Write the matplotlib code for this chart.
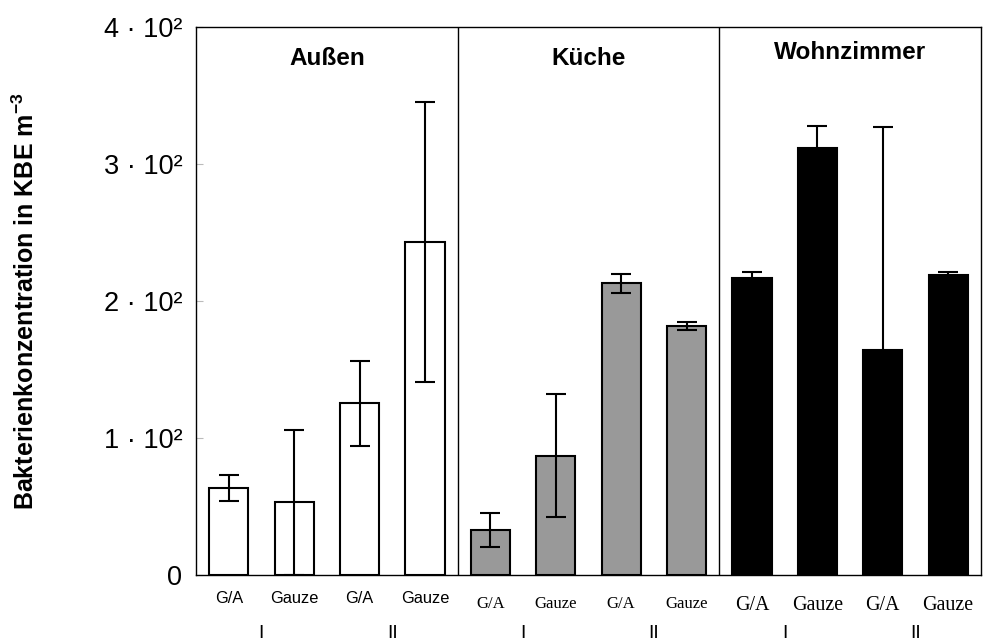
import matplotlib.pyplot as plt
import numpy as np

plt.rcParams['font.family'] = 'Liberation Sans'
plt.rcParams['mathtext.fontset'] = 'custom'
plt.rcParams['mathtext.rm'] = 'Liberation Sans'
plt.rcParams['mathtext.bf'] = 'Liberation Sans:bold'

gruppen = ['Außen', 'Küche', 'Wohnzimmer']
proben = ['G/A', 'Gauze', 'G/A', 'Gauze']
serien = ['I', 'II']
farben = ['white', '#999999', 'black']

werte = {
    'Außen': [63.5, 53, 125.5, 243],
    'Küche': [33, 87, 213, 182],
    'Wohnzimmer': [217, 312, 164, 219],
}
fehler = {
    'Außen': [9.5, 53, 31, 102],
    'Küche': [12.5, 45, 7, 3],
    'Wohnzimmer': [4, 16, 163, 2.5],
}

fig = plt.figure(figsize=(9.86, 6.42), dpi=100)
ax = fig.add_axes([0.1988, 0.1044, 0.796, 0.8536])

for g, name in enumerate(gruppen):
    x = np.arange(4) + 4 * g
    ax.bar(x, werte[name], width=0.6, color=farben[g], edgecolor='black',
           linewidth=1.5, zorder=2)
    ax.errorbar(x, werte[name], yerr=fehler[name], fmt='none', ecolor='black',
                elinewidth=1.5, capsize=7, capthick=1.5, zorder=3)

for xd in [3.5, 7.5]:
    ax.axvline(xd, color='black', linewidth=1, zorder=1)

ax.set_xlim(-0.5, 11.5)
ax.set_ylim(0, 400)
ax.set_yticks([0, 100, 200, 300, 400])
ax.set_yticklabels(['0', '1 · 10²', '2 · 10²', '3 · 10²', '4 · 10²'], fontsize=19.5)
ax.tick_params(axis='y', direction='in', length=5, color='#bbbbbb', pad=10)
ax.tick_params(axis='x', length=0)
for s in ax.spines.values():
    s.set_linewidth(1)

ax.set_xticks(np.arange(12))
ax.set_xticklabels(proben * 3)
for i, lab in enumerate(ax.get_xticklabels()):
    if i < 4:
        lab.set_fontsize(11.8)
        lab.set_y(-0.02)
    elif i < 8:
        lab.set_family('Liberation Serif')
        lab.set_fontsize(12)
        lab.set_y(-0.03)
    else:
        lab.set_family('Liberation Serif')
        lab.set_fontsize(14.4)
        lab.set_y(-0.03)

for g in range(3):
    for k, s in enumerate(serien):
        ax.text(4 * g + 2 * k + 0.5, -0.107, s, transform=ax.get_xaxis_transform(),
                ha='center', va='center', fontsize=14)

titel_y = [0.943, 0.943, 0.953]
for g, name in enumerate(gruppen):
    ax.text(4 * g + 1.5, titel_y[g], name, transform=ax.get_xaxis_transform(),
            ha='center', va='center', fontsize=17.5, fontweight='bold')

ax.set_ylabel(r'Bakterienkonzentration in KBE m$^{\mathbf{-3}}$', fontsize=18,
              fontweight='bold')
ax.yaxis.set_label_coords(-0.2, 0.5)

plt.savefig('out.png', dpi=100)
